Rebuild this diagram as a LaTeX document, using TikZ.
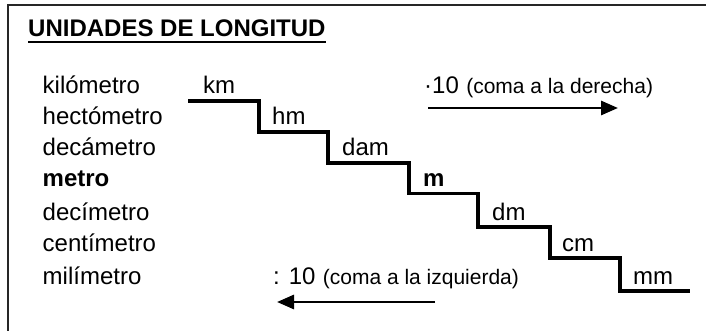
\documentclass[tikz,border=0pt]{standalone}
\usepackage{fontspec}
\setmainfont{Liberation Sans}
\usetikzlibrary{arrows.meta}
\begin{document}
\begin{tikzpicture}[x=1pt,y=-1pt,
  big/.style={font=\fontsize{24}{28}\selectfont, inner sep=0pt, anchor=base west},
  small/.style={font=\fontsize{21}{25}\selectfont, inner sep=0pt, anchor=base west},
  stair/.style={line width=3.3pt, line join=miter},
  conv/.style={line width=2.9pt, -{Triangle[length=17pt,width=14pt]}},
  frame/.style={line width=1.7pt, draw=black!85}]
\useasboundingbox (0,0) rectangle (706,331);
\draw[frame] (8,5) rectangle (720,345);
% title
\node[big, font=\fontsize{24}{28}\selectfont\bfseries] (title) at (28,37) {UNIDADES DE LONGITUD};
\draw[line width=2pt] ([yshift=-4.7pt]title.base west) -- ([yshift=-4.7pt]title.base east);
% names
\node[big] (n1) at (42.5,94) {kilómetro};
\node[big] (n2) at (42.5,125) {hectómetro};
\node[big] (n3) at (42.5,156) {decámetro};
\node[big, font=\fontsize{24}{28}\selectfont\bfseries] (n4) at (42.5,186.5) {metro};
\node[big] (n5) at (42.5,220) {decímetro};
\node[big] (n6) at (42.5,251) {centímetro};
\node[big] (n7) at (42.5,284) {milímetro};
% units
\node[big] (u1) at (203,94) {km};
\node[big] (u2) at (272,125) {hm};
\node[big] (u3) at (342,156) {dam};
\node[big, font=\fontsize{24}{28}\selectfont\bfseries] (u4) at (423,186.5) {m};
\node[big] (u5) at (492,220) {dm};
\node[big] (u6) at (562,251) {cm};
\node[big] (u7) at (633,284) {mm};
% staircase
\draw[stair] (188,101) -- (259,101) -- (259,132) -- (328,132) -- (328,163) -- (409,163)
  -- (409,193.5) -- (478,193.5) -- (478,227) -- (550,227) -- (550,258) -- (620,258)
  -- (620,291) -- (690,291);
% multiply
\node[big] (mul) at (424,94) {·10};
\node[small] (mulc) at ([xshift=7pt]mul.base east) {(coma a la derecha)};
\coordinate (r0) at (428,108);
\coordinate (r1) at (618,108);
\draw[conv] (r0) -- (r1);
% divide
\node[big] (dv) at (273,284) {: 10};
\node[small] (dvc) at ([xshift=7pt]dv.base east) {(coma a la izquierda)};
\coordinate (l0) at (435,302);
\coordinate (l1) at (277,302);
\draw[conv] (l0) -- (l1);
\end{tikzpicture}
\end{document}
